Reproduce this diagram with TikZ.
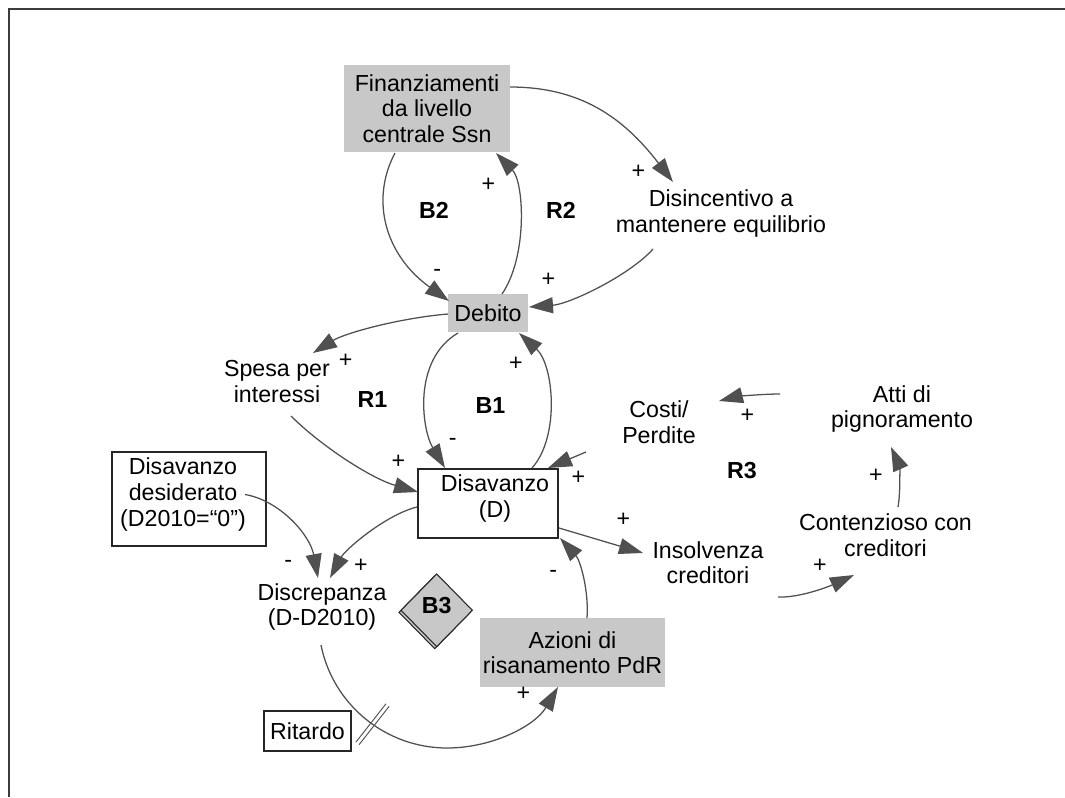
\documentclass[tikz,border=0pt]{standalone}
\usepackage{fontspec}
\setmainfont{Liberation Sans}
\usetikzlibrary{arrows.meta,calc,shapes.geometric}
\definecolor{boxgray}{RGB}{200,200,200}
\definecolor{linkgray}{RGB}{80,80,80}
\definecolor{framegray}{RGB}{60,60,60}

\begin{document}
\begin{tikzpicture}[x=0.75pt,y=-0.75pt,
  every node/.style={inner sep=0pt,outer sep=0pt,font=\fontsize{17.4pt}{19.2pt}\selectfont},
  txt/.style={align=center},
  graybox/.style={fill=boxgray,align=center},
  whitebox/.style={draw=black!85,line width=0.9pt,fill=white},
  loopname/.style={font=\fontsize{17.4pt}{19.2pt}\selectfont\bfseries},
  link/.style={draw=linkgray,line width=0.95pt,-{Triangle[length=18pt,width=12pt]}},
  delaymark/.style={draw=linkgray,line width=0.7pt},
  flag/.style={diamond,fill=boxgray,draw=black!85,line width=0.8pt,
    minimum width=53.5pt,minimum height=54.5pt},
]
\useasboundingbox (0,0) rectangle (1065,797);

% frame
\draw[framegray,line width=0.8pt] (9,797) -- (9,9) -- (1065,9);

% variables
\node[graybox,minimum width=124.5pt,minimum height=65.25pt] (fin) at (427,108.5)
  {Finanziamenti\\da livello\\centrale Ssn};
\node[graybox,minimum width=60pt,minimum height=28.5pt] (deb) at (488,313) {Debito};
\node[txt] (dis) at (721,213.5) {Disincentivo a\\mantenere equilibrio};
\node[txt] (spe) at (277,381.5) {Spesa per\\interessi};
\node[whitebox,minimum width=105pt,minimum height=51.75pt] (dsv) at (488,503.5) {};
\node[txt] (dsvt) at (495,498.5) {Disavanzo\\(D)};
\node[whitebox,minimum width=115.5pt,minimum height=70.5pt] (dd) at (189,499) {};
\node[txt] (ddt) at (183,494.5) {Disavanzo\\desiderato\\(D2010=“0”)};
\node[txt] (dsc) at (322,607) {Discrepanza\\(D-D2010)};
\node[whitebox,minimum width=65.25pt,minimum height=30pt] (rit) at (307.5,731) {Ritardo};
\node[graybox,minimum width=138.75pt,minimum height=51.75pt] (az) at (572.5,652.5)
  {Azioni di\\risanamento PdR};
\node[txt] (cos) at (659,422.5) {Costi/\\Perdite};
\node[txt] (att) at (902,408.8) {Atti di\\pignoramento};
\node[txt] (con) at (885.5,535) {Contenzioso con\\creditori};
\node[txt] (ins) at (708,562.6) {Insolvenza\\creditori};

% balancing loop flag
\node[flag] (b3s) at (434.7,612.3) {};
\node[flag,loopname,text depth=7.4pt] (b3) at (436.7,610.3) {B3};

% loop names
\node[loopname] (lb2) at (434,210.5) {B2};
\node[loopname] (lr2) at (561,210.5) {R2};
\node[loopname] (lr1) at (372.5,400) {R1};
\node[loopname] (lb1) at (490.5,405.7) {B1};
\node[loopname] (lr3) at (742,470.5) {R3};

% polarities
\node (p1) at (638.3,171.7) {+};
\node (p2) at (437.3,272.8) {-};
\node (p3) at (488.3,185) {+};
\node (p4) at (548.3,280) {+};
\node (p5) at (345.7,360.7) {+};
\node (p6) at (452.7,442) {-};
\node (p7) at (516,363.3) {+};
\node (p8) at (398.3,461.7) {+};
\node (p9) at (578.3,477.3) {+};
\node (p10) at (623.3,520) {+};
\node (p11) at (553.3,573.8) {-};
\node (p12) at (361,566) {+};
\node (p13) at (288.3,563.5) {-};
\node (p14) at (523.3,693.3) {+};
\node (p15) at (820,566) {+};
\node (p16) at (876,475.7) {+};
\node (p17) at (747.3,416) {+};

% causal links
\draw[link] ($(fin.north east)+(0,22)$) .. controls +(70,0) and +(-50,-65) .. ($(dis)+(-48,-31.5)$);
\draw[link] ($(fin.south west)+(51,1)$) .. controls +(-25,47) and +(-64,-46) .. ($(deb.north west)+(1,7)$);
\draw[link] ($(deb.north)+(14,0)$) .. controls +(26,-38) and +(28,29) .. ($(fin.south)+(69,1)$);
\draw[link] ($(dis)+(-68,35.5)$) .. controls +(-23,26) and +(41,-3) .. ($(deb.east)+(1,-6)$);
\draw[link] ($(deb.west)+(0,1)$) .. controls +(-48,4) and +(32,-20) .. ($(spe)+(36,-28.5)$);
\draw[link] ($(deb.south west)+(10,1)$) .. controls +(-46,27) and +(-23,-38) .. ($(dsv.north west)+(27,-1)$);
\draw[link] ($(dsv.north east)+(-26,-1)$) .. controls +(28,-31) and +(35,32) .. ($(deb.south east)+(-9,1)$);
\draw[link] ($(spe)+(14,34.5)$) .. controls +(29,29) and +(-48,-14) .. ($(dsv.west)+(0,-11.5)$);
\draw[link] ($(cos)+(-73,29.5)$) -- ($(dsv.north east)+(-10,-1)$);
\draw[link] ($(dsv.east)+(1,24.5)$) -- ($(ins)+(-65,-9.6)$);
\draw[link] ($(az.north)+(14.5,0)$) .. controls +(2,-28) and +(20,22) .. ($(dsv.south east)+(2,0)$);
\draw[link] ($(dsv.west)+(-1,3.5)$) .. controls +(-32,8) and +(15,-28) .. ($(dsc)+(8,-29)$);
\draw[link] ($(ddt)+(62,0)$) .. controls +(35,6) and +(-8,-43) .. ($(dsc)+(-4,-29)$);
\draw[link] ($(dsc)+(-1,38)$) .. controls +(12,60) and +(-61,0) .. ($(dsc)+(125,141)$)
  coordinate[pos=0.55] (dly)
  .. controls +(45,0) and +(-23,39) .. ($(az.south west)+(78,0)$);
\draw[link] ($(ins)+(70,34.4)$) .. controls +(22,1) and +(-24,11) .. ($(con)+(-31.5,40)$);
\draw[link] ($(con)+(12.5,-28)$) .. controls +(3,-17) and +(8,18) .. ($(att)+(-11,38.2)$);
\draw[link] ($(att)+(-122,-14.8)$) .. controls +(-20,0) and +(16,-4) .. ($(cos)+(60,-21.5)$);

% delay mark on the Discrepanza -> Azioni link
\draw[delaymark] ($(dly)+(-16.6,17.9)$) -- ($(dly)+(13.4,-20.4)$);
\draw[delaymark] ($(dly)+(-13.4,20.4)$) -- ($(dly)+(16.6,-17.9)$);
\end{tikzpicture}
\end{document}
